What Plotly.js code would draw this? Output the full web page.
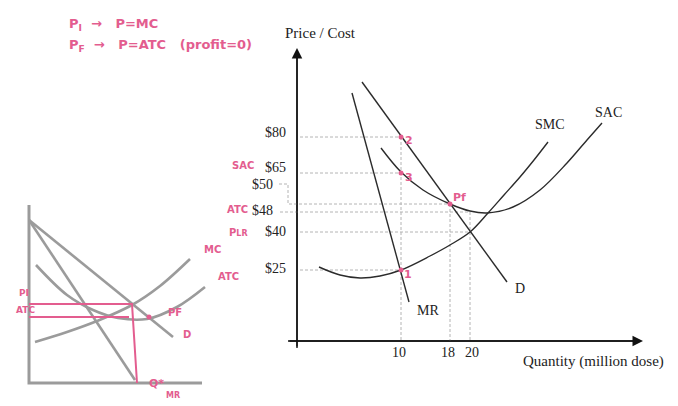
<!DOCTYPE html>
<html>
<head>
<meta charset="utf-8">
<script src="https://cdn.plot.ly/plotly-3.0.1.min.js"></script>
<style>html,body{margin:0;padding:0;background:#fff;}#chart{width:678px;height:406px;}</style>
</head>
<body>
<div id="chart"></div>
<script>
// ---------- Main diagram (schematic units: origin = axes corner) ----------
// Quantity tick labels (positions on the schematic quantity axis)
const qTickPos  = [104, 153, 173];
const qTickText = ['10', '18', '20'];
// Price levels on the schematic price axis
const priceLevelPos  = [209, 174, 157, 131, 110, 73];   // label positions
const priceLevelText = ['$80', '$65', '$50', '$48', '$40', '$25'];
const levelY = {p80: 204, p65: 168, p50: 137, p48: 129, p40: 109, p25: 71};

// Curves
const mrX  = [55, 112];           const mrY  = [248, 39];
const dX   = [65, 210];           const dY   = [259, 59];
const sacX = [84, 104, 126, 153, 173, 190, 216, 243, 270, 290, 305];
const sacY = [193, 169, 151, 137, 130, 128, 134, 151, 178, 201, 218];
const smcX = [22, 43, 63, 83, 104, 133, 153, 173, 191, 207, 223, 237, 251];
const smcY = [74, 66, 63, 65, 71, 85, 96, 109, 128, 146, 164, 181, 199];

// Marked points (1, 2, 3, Pf)
const ptLabels = ['2', '3', 'Pf', '1'];
const ptX = [104, 104, 153, 104];
const ptY = [204, 168, 137, 71];

// ---------- Small hand-drawn diagram ----------
const sDX  = [0, 144];    const sDY  = [163, 46];
const sMRX = [0, 106];    const sMRY = [163, 3];
const sMCX = [6, 38, 68, 103, 131, 161];
const sMCY = [41, 51, 62, 78, 97, 124];
const sATCX = [7, 38, 64, 89, 118, 148, 176];
const sATCY = [118, 88, 73, 65, 64, 76, 96];
const sQstar = 103, sPI = 79, sATClev = 66;

const INK = '#2b2b2b', GUIDE = '#b4b4b4', PINK = '#e35d8f', GREY = '#9b9b9b';
const SERIF = 'Liberation Serif, Times New Roman, serif';
const HAND = 'DejaVu Sans, sans-serif';
function hf(size) { return {family: HAND, size: size, color: PINK, weight: 'bold'}; }

const traces = [];
function line(x, y, opt) {
  traces.push(Object.assign({type: 'scatter', mode: 'lines', x: x, y: y, hoverinfo: 'skip',
    cliponaxis: false, line: {color: INK, width: 1.4}}, opt || {}));
}
const guide = {line: {color: GUIDE, width: 1, dash: '3px,2px'}};

// main axes lines
line([-9, 340], [0, 0], {line: {color: '#111', width: 1.4}});
line([0, 0], [-7, 288], {line: {color: '#111', width: 1.4}});

// guide lines
line([3, ptX[0]], [levelY.p80, levelY.p80], guide);
line([3, ptX[1]], [levelY.p65, levelY.p65], guide);
line([-18, -9, -9, ptX[2]], [157, 157, levelY.p50, levelY.p50], guide);
line([-17, qTickPos[2]], [levelY.p48, levelY.p48], guide);
line([3, qTickPos[2]], [levelY.p40, levelY.p40], guide);
line([3, ptX[3]], [levelY.p25, levelY.p25], guide);
line([qTickPos[0], qTickPos[0]], [levelY.p80, 0], guide);
line([qTickPos[1], qTickPos[1]], [levelY.p50, 0], guide);
line([qTickPos[2], qTickPos[2]], [levelY.p48, 0], guide);

// curves
line(mrX, mrY);
line(dX, dY);
line(sacX, sacY, {line: {color: INK, width: 1.4, shape: 'spline', smoothing: 1}});
line(smcX, smcY, {line: {color: INK, width: 1.4, shape: 'spline', smoothing: 1}});
traces.push({type: 'scatter', mode: 'markers', x: ptX, y: ptY, hoverinfo: 'skip', cliponaxis: false,
  marker: {color: PINK, size: 5}});

// small diagram
function sline(x, y, opt) {
  traces.push(Object.assign({type: 'scatter', mode: 'lines', x: x, y: y, xaxis: 'x2', yaxis: 'y2',
    hoverinfo: 'skip', cliponaxis: false, line: {color: GREY, width: 2.6}}, opt || {}));
}
sline([0, 0, 173], [178, 0, 0], {line: {color: GREY, width: 3}});
sline(sDX, sDY);
sline(sMRX, sMRY);
sline(sMCX, sMCY, {line: {color: GREY, width: 2.6, shape: 'spline', smoothing: 1}});
sline(sATCX, sATCY, {line: {color: GREY, width: 2.6, shape: 'spline', smoothing: 1}});
sline([0, sQstar, sQstar + 5], [sPI, sPI, 0], {line: {color: PINK, width: 2}});
sline([0, 100], [sATClev, sATClev], {line: {color: PINK, width: 2}});
traces.push({type: 'scatter', mode: 'markers', x: [120], y: [66], xaxis: 'x2', yaxis: 'y2',
  hoverinfo: 'skip', cliponaxis: false, marker: {color: PINK, size: 5}});

// ---------- annotations ----------
const ann = [];
function dtext(x, y, t, o) {
  ann.push(Object.assign({xref: 'x', yref: 'y', x: x, y: y, text: t, showarrow: false,
    font: {family: SERIF, size: 14, color: '#222'}}, o || {}));
}
function ptext(px, py, t, o) {
  ann.push(Object.assign({xref: 'paper', yref: 'paper', x: px / 678, y: 1 - py / 406, text: t,
    showarrow: false, font: hf(10)}, o || {}));
}
// axis arrows
ann.push({xref: 'x', yref: 'y', axref: 'x', ayref: 'y', x: 0, y: 293, ax: 0, ay: -7, text: '',
  showarrow: true, arrowhead: 2, arrowsize: 1.5, arrowwidth: 1.4, arrowcolor: '#111', standoff: 0});
ann.push({xref: 'x', yref: 'y', axref: 'x', ayref: 'y', x: 346, y: 0, ax: -9, ay: 0, text: '',
  showarrow: true, arrowhead: 2, arrowsize: 1.5, arrowwidth: 1.4, arrowcolor: '#111', standoff: 0});
// titles
dtext(23, 308, 'Price / Cost', {font: {family: SERIF, size: 15, color: '#222'}});
dtext(296, -20, 'Quantity (million dose)', {font: {family: SERIF, size: 15, color: '#222'}});
// quantity ticks
qTickPos.forEach((q, i) => dtext(q + [-2, -2, 2][i], -11, qTickText[i]));
// price labels
priceLevelText.forEach((t, i) => dtext((t === '$50' || t === '$48') ? -22 : -9, priceLevelPos[i], t,
  {xanchor: 'right'}));
// curve labels
dtext(253, 217, 'SMC'); dtext(311, 229, 'SAC'); dtext(223, 53, 'D'); dtext(131, 31, 'MR');
// point labels
const ptOff = [[8, -3], [8, -4], [9, 7], [7, -4]];
ptLabels.forEach((t, i) => dtext(ptX[i] + ptOff[i][0], ptY[i] + ptOff[i][1], t, {font: hf(11)}));
// handwritten notes
ptext(67, 14, 'P<sub>I</sub>  →   P=MC', {xanchor: 'left', font: hf(13)});
ptext(67, 35, 'P<sub>F</sub>  →   P=ATC   (profit=0)', {xanchor: 'left', font: hf(13)});
ptext(243, 165, 'SAC'); ptext(225, 209, 'ATC');
ptext(238, 232, 'P<span style="font-size:8px">LR</span>');
ptext(17, 300, 'PI', {font: hf(9)});
ptext(14, 317, 'ATC', {font: hf(9)});
ptext(166, 320, 'PF'); ptext(181, 342, 'D'); ptext(202, 249, 'MC'); ptext(228, 284, 'ATC');
ptext(147, 392, 'Q*', {font: hf(11)}); ptext(164, 402, 'MR', {font: hf(8)});

const layout = {
  width: 678, height: 406, margin: {l: 0, r: 0, t: 0, b: 0},
  paper_bgcolor: '#ffffff', plot_bgcolor: 'rgba(0,0,0,0)', showlegend: false,
  xaxis:  {domain: [217 / 678, 667 / 678], range: [-80, 370], visible: false, fixedrange: true},
  yaxis:  {domain: [45 / 406, 386 / 406], range: [-20, 321], visible: false, fixedrange: true},
  xaxis2: {domain: [0, 244 / 678], range: [-29, 215], visible: false, anchor: 'y2', fixedrange: true},
  yaxis2: {domain: [0, 213 / 406], range: [-23, 190], visible: false, anchor: 'x2', fixedrange: true},
  annotations: ann
};
Plotly.newPlot('chart', traces, layout, {displayModeBar: false, staticPlot: true});
</script>
</body>
</html>
